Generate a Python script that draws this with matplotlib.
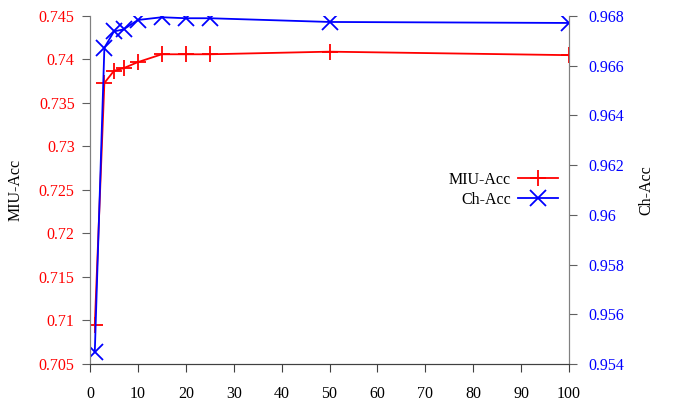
import matplotlib
matplotlib.use('Agg')
import matplotlib.pyplot as plt

plt.rcParams['font.family'] = ['Liberation Serif', 'DejaVu Serif']

# data
steps = [1, 3, 5, 7, 10, 15, 20, 25, 50, 100]
miu_acc = [0.7095, 0.7373, 0.7387, 0.7390, 0.7397, 0.7406, 0.7406, 0.7406, 0.7409, 0.7405]
ch_acc = [0.95448, 0.96672, 0.96738, 0.96746, 0.96784, 0.96795, 0.96791, 0.96791, 0.96776, 0.96772]

miu_ticks = [0.705, 0.71, 0.715, 0.72, 0.725, 0.73, 0.735, 0.74, 0.745]
ch_ticks = [0.954, 0.956, 0.958, 0.96, 0.962, 0.964, 0.966, 0.968]
x_ticks = list(range(0, 101, 10))

fig = plt.figure(figsize=(6.76, 4.07), dpi=100)
ax = fig.add_axes([90 / 676, 43 / 407, 479 / 676, 348 / 407])
ax2 = ax.twinx()

l1, = ax.plot(steps, miu_acc, color='#ff0000', marker='+', markersize=12,
              markeredgewidth=1.3, linewidth=1.3, label='MIU-Acc')
l2, = ax2.plot(steps, ch_acc, color='#0000ff', marker='x', markersize=11,
               markeredgewidth=1.3, linewidth=1.3, label='Ch-Acc')

ax.set_xlim(0, 100)
ax.set_ylim(0.705, 0.745)
ax2.set_ylim(0.954, 0.968)
ax.set_xticks(x_ticks)
ax.set_yticks(miu_ticks)
ax.set_yticklabels([f'{v:g}' for v in miu_ticks])
ax2.set_yticks(ch_ticks)
ax2.set_yticklabels([f'{v:g}' for v in ch_ticks])

fs = 11.5
for a in (ax, ax2):
    a.spines['top'].set_visible(False)
    a.spines['left'].set_color('#808080')
    a.spines['right'].set_color('#808080')
    a.spines['bottom'].set_color('#404040')
ax.tick_params(axis='x', direction='out', length=6, color='#404040', labelsize=fs, pad=10)
ax.tick_params(axis='y', direction='out', length=6, color='#606060', labelsize=fs,
               labelcolor='#ff0000', pad=5)
ax2.tick_params(axis='y', direction='out', length=6, color='#606060', labelsize=fs,
                labelcolor='#0000ff', pad=8)

ax.set_ylabel('MIU-Acc', fontsize=fs, labelpad=11)
ax2.set_ylabel('Ch-Acc', fontsize=fs, labelpad=10)

ax.legend(handles=[l1, l2], loc='center left', bbox_to_anchor=(0.733, 0.5),
          frameon=False, fontsize=fs, markerfirst=False, handlelength=2.45,
          handletextpad=0.45, labelspacing=0.25, borderpad=0)

fig.savefig('out.png', dpi=100)
